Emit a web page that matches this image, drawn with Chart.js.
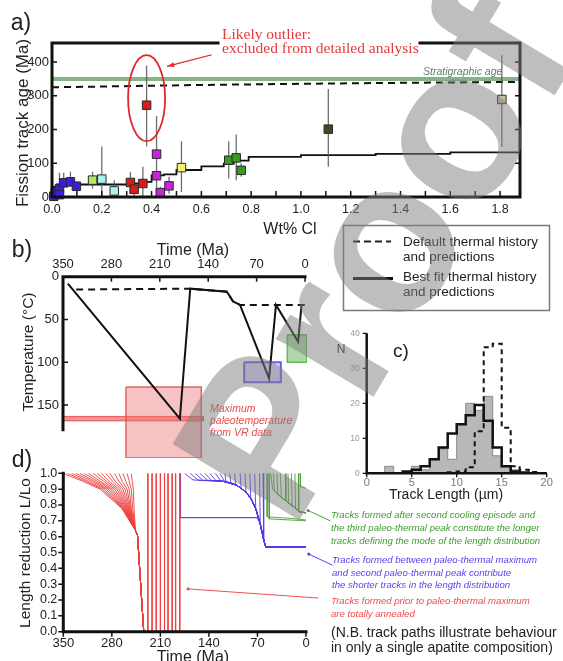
<!DOCTYPE html>
<html>
<head>
<meta charset="utf-8">
<title>Apatite fission track ages, thermal history and track lengths</title>
<script src="https://cdn.jsdelivr.net/npm/chart.js@4.4.1/dist/chart.umd.min.js"></script>
<style>
  html, body { margin: 0; padding: 0; background: #fff; }
  #page { position: relative; width: 563px; height: 661px; overflow: hidden;
          font-family: "Liberation Sans", Arial, sans-serif; color: #222; }
  #page canvas { position: absolute; }
  .lbl { position: absolute; white-space: nowrap; line-height: 1; }
  #watermark { position: absolute; white-space: nowrap; line-height: 1; font-weight: bold;
               font-family: "Liberation Sans", Arial, sans-serif; color: rgba(125,125,125,0.5);
               pointer-events: none; z-index: 10; }
</style>
</head>
<body>
<div id="page">
  <canvas id="panelA" width="563" height="240" style="left:0;top:0"></canvas>
  <canvas id="panelB" width="340" height="242" style="left:0;top:230px"></canvas>
  <canvas id="panelC" width="233" height="185" style="left:330px;top:320px"></canvas>
  <canvas id="panelD" width="563" height="206" style="left:0;top:455px"></canvas>
</div>
<script>
// ---------------- a) fission track age against chlorine content ----------------
const sampleCl      = [0.007, 0.013, 0.030, 0.030, 0.047, 0.074, 0.098, 0.163, 0.200, 0.250, 0.315, 0.330, 0.365, 0.380, 0.420, 0.420, 0.435, 0.470, 0.520, 0.710, 0.740, 0.760, 1.110, 1.807];
const sampleAge     = [2, 15, 25, 7, 42, 45, 32, 50, 53, 18, 43, 23, 40, 272, 127, 63, 13, 33, 87, 109, 116, 79, 201, 289];
const sampleAgeLow  = [0, 5, 10, 0, 25, 30, 20, 25, 0, 0, 10, 0, 0, 150, 65, 0, 0, 10, 15, 55, 50, 60, 90, 148];
const sampleAgeHigh = [10, 30, 72, 20, 72, 75, 45, 75, 150, 50, 75, 55, 90, 390, 240, 100, 30, 60, 165, 165, 185, 100, 320, 420];
const sampleGroup   = [0, 0, 0, 0, 0, 0, 0, 1, 2, 2, 3, 3, 3, 3, 4, 4, 4, 4, 5, 6, 6, 6, 7, 8];
const outlierIndex  = 13;

const bestFitCl  = [0, 0.02, 0.31, 0.37, 0.40, 0.45, 0.50, 0.60, 0.69, 0.73, 0.79, 1.00, 1.30, 1.60, 1.88];
const bestFitAge = [30, 37, 40, 45, 64, 67, 80, 91, 99, 108, 119, 124, 128, 132, 132];
const defaultCl  = [0, 0.60, 1.20, 1.88];
const defaultAge = [325, 332, 337, 341];
const stratigraphicAge = 350;

const clTicks  = [0, 0.2, 0.4, 0.6, 0.8, 1.0, 1.2, 1.4, 1.6, 1.8];
const ageTicks = [0, 100, 200, 300, 400];

// ---------------- b) thermal histories ----------------
const bestPathTime    = [343, 181, 166, 113, 104, 94, 52, 42, 10, 5];
const bestPathTemp    = [8, 166, 14, 17.5, 29, 33, 119, 33, 76, 33];
const defaultPathTime = [331, 166, 113, 104, 94, 0];
const defaultPathTemp = [15, 14, 17.5, 29, 33, 33];
const vrMaxTemp  = 166;
const vrTimeSpan = [350, 147];
const redBoxTime   = [259, 150], redBoxTemp   = [129, 212];
const blueBoxTime  = [88, 35],   blueBoxTemp  = [100, 123.5];
const greenBoxTime = [25.6, -2.4], greenBoxTemp = [68, 100];
const timeTicks = [350, 280, 210, 140, 70, 0];
const tempTicks = [0, 50, 100, 150];

// ---------------- c) track length distributions (1 µm bins) ----------------
const lengthBinEdges = [0, 1, 2, 3, 4, 5, 6, 7, 8, 9, 10, 11, 12, 13, 14, 15, 16, 17, 18, 19, 20];
const observedCount  = [0, 0, 2, 0, 0, 2, 1, 4, 7, 4, 14, 20, 18, 22, 5, 2, 1, 0, 0, 0];
const bestFitCount   = [0, 0, 0, 0, 0.5, 1, 2, 4, 7.4, 11.4, 14, 16.6, 19.5, 15, 7.4, 2, 0.5, 0.2, 0, 0];
const defaultCount   = [0, 0, 0, 0, 0, 0, 0, 0, 0, 0.3, 0.5, 1.7, 12, 36, 37, 13, 2, 1, 0.4, 0];
const lengthTicks = [0, 5, 10, 15, 20];
const countTicks  = [0, 10, 20, 30, 40];

// ---------------- d) length reduction of individual tracks ----------------
const redFanStart  = [350, 344, 338, 332, 326, 320, 314, 307, 301, 295, 289, 283, 276, 270, 264, 258, 252];
const redFanAt095  = [322, 318, 314, 309, 305, 301, 297, 292, 288, 284, 279, 275, 270, 265, 260, 255, 250.5];
const redFanAt090  = [297, 294, 291, 288, 285, 282, 279, 276, 273, 270, 267, 264, 261, 258, 255, 252, 249];
const redFanAt078  = [266, 265, 264, 263, 262, 261, 260, 259, 258, 257, 256, 255, 254, 253, 252, 250, 248];
const redMergeTime  = [246, 243, 234];
const redMergeRatio = [0.64, 0.61, 0];
const redVerticalStart = [228, 222, 216, 210, 204, 199, 193, 188, 182];

const blueFirstTime  = [181, 181, 70, 66, 61, 58, 0];
const blueFirstRatio = [1.0, 0.72, 0.72, 0.68, 0.58, 0.535, 0.535];
const blueStart      = [175, 167, 160, 153, 146, 139, 131, 124, 117, 110, 103, 95, 88, 81, 74, 67, 62];
const blueJoinTime   = [163, 156, 149, 142, 136, 130, 123, 118, 115.5, 108.5, 101.5, 93.5, 86.5, 79.5, 72.5, 66, 61];
const blueJoinRatio  = [0.958, 0.958, 0.957, 0.956, 0.955, 0.955, 0.953, 0.952, 0.95, 0.943, 0.928, 0.905, 0.88, 0.84, 0.775, 0.68, 0.58];
const blueEnvTime    = [150, 120, 100, 86, 78, 72, 66, 61, 58, 0];
const blueEnvRatio   = [0.955, 0.95, 0.925, 0.88, 0.83, 0.77, 0.68, 0.58, 0.535, 0.535];

const greenFlatTime  = [[56, 56, 20, 0], [53, 53, 0]];
const greenFlatRatio = [[1.0, 0.725, 0.715, 0.705], [1.0, 0.712, 0.70]];
const greenStart     = [51, 47, 42, 37, 30, 26, 21, 16, 11];
const greenJoinTime  = [48, 45.5, 40.5, 35.5, 29, 25, 20, 15, 10.5];
const greenJoinRatio = [0.9, 0.885, 0.865, 0.845, 0.825, 0.81, 0.79, 0.775, 0.76];
const greenEnvTime   = [47, 33, 18, 9, 0];
const greenEnvRatio  = [0.895, 0.84, 0.79, 0.757, 0.75];
const greenLastTime  = [8, 8, 0];
const greenLastRatio = [1.0, 0.915, 0.905];
const ratioTicks = [0, 0.1, 0.2, 0.3, 0.4, 0.5, 0.6, 0.7, 0.8, 0.9, 1.0];

// ======================================================================
const FONT = '"Liberation Sans", Arial, sans-serif';
Chart.defaults.font.family = FONT;
Chart.defaults.color = '#222';

const groupColors = ['#3b1ee0', '#b6e65a', '#aef0ee', '#d41e1e', '#cc22dd', '#f2f26a', '#3a9a22', '#3d4d1e', '#c9bfa5'];
const RED = 'rgba(238,62,62,0.9)', BLUE = 'rgba(84,58,236,0.9)', GREEN = 'rgba(72,162,52,0.9)';

const pts = (xs, ys) => xs.map((x, i) => ({ x, y: ys[i] }));

function baseOptions(scales, padding) {
  return {
    responsive: false, animation: false, events: [],
    layout: { padding },
    plugins: { legend: { display: false }, tooltip: { enabled: false } },
    elements: { point: { radius: 0 }, line: { tension: 0 } },
    scales
  };
}

function linAxis(o) {
  return {
    type: 'linear', min: o.min, max: o.max, reverse: !!o.reverse, position: o.position,
    grid: { display: false, drawTicks: false }, border: { display: false },
    ticks: { font: { size: o.size, family: FONT }, color: o.color || '#222', padding: o.pad,
             maxRotation: 0, autoSkip: false, callback: o.fmt || (v => String(v)) },
    afterBuildTicks: s => { s.ticks = o.ticks.map(v => ({ value: v })); },
    afterFit: s => { if (o.width != null) s.width = o.width; if (o.height != null) s.height = o.height; }
  };
}

function lineSet(data, color, width, extra) {
  return Object.assign({ data, borderColor: color, borderWidth: width, pointRadius: 0, fill: false }, extra || {});
}

function boxSet(times, temps, fillColor, strokeColor, width) {
  const d = [
    { x: times[0], y: temps[0] }, { x: times[1], y: temps[0] },
    { x: times[1], y: temps[1] }, { x: times[0], y: temps[1] }, { x: times[0], y: temps[0] }
  ];
  return { data: d, borderColor: strokeColor, borderWidth: width, backgroundColor: fillColor,
           fill: 'shape', pointRadius: 0 };
}

// ---------------- panel a ----------------
const errorSegments = [];
sampleCl.forEach((x, i) => {
  errorSegments.push({ x, y: sampleAgeLow[i] }, { x, y: sampleAgeHigh[i] }, { x, y: null });
});

const frameA = {
  id: 'frameA',
  afterDraw(chart) {
    const { ctx, chartArea: a, scales: { x, y } } = chart;
    ctx.save();
    ctx.strokeStyle = '#111';
    ctx.lineWidth = 1.5;
    ctx.beginPath();
    for (let v = 0.1; v < 1.85; v += 0.1) {
      const px = x.getPixelForValue(v);
      ctx.moveTo(px, a.bottom); ctx.lineTo(px, a.bottom - 6);
    }
    ageTicks.slice(1).forEach(v => {
      const py = y.getPixelForValue(v);
      ctx.moveTo(a.left, py); ctx.lineTo(a.left + 5, py);
      ctx.moveTo(a.right, py); ctx.lineTo(a.right - 5, py);
    });
    ctx.stroke();
    ctx.lineWidth = 3;
    ctx.lineCap = 'square';
    ctx.beginPath();
    ctx.moveTo(a.left, a.top); ctx.lineTo(218, a.top);
    ctx.moveTo(420, a.top); ctx.lineTo(a.right, a.top);
    ctx.lineTo(a.right, a.bottom); ctx.lineTo(a.left, a.bottom); ctx.lineTo(a.left, a.top);
    ctx.stroke();
    // ring around the excluded sample and the arrow from its note
    const ox = x.getPixelForValue(sampleCl[outlierIndex]);
    const oy = y.getPixelForValue(sampleAge[outlierIndex]) - 7;
    ctx.strokeStyle = '#e0282c';
    ctx.lineWidth = 1.8;
    ctx.beginPath();
    ctx.ellipse(ox, oy, 18.5, 43, 0, 0, Math.PI * 2);
    ctx.stroke();
    const sx = 211, sy = 55, ex = ox + 21, ey = oy - 32;
    ctx.lineWidth = 1.2;
    ctx.beginPath(); ctx.moveTo(sx, sy); ctx.lineTo(ex, ey); ctx.stroke();
    const ang = Math.atan2(ey - sy, ex - sx);
    ctx.fillStyle = '#e0282c';
    ctx.beginPath();
    ctx.moveTo(ex, ey);
    ctx.lineTo(ex - 7 * Math.cos(ang - 0.35), ey - 7 * Math.sin(ang - 0.35));
    ctx.lineTo(ex - 7 * Math.cos(ang + 0.35), ey - 7 * Math.sin(ang + 0.35));
    ctx.closePath(); ctx.fill();
    ctx.restore();
  }
};

new Chart(document.getElementById('panelA'), {
  type: 'line',
  data: { datasets: [
    { data: pts(sampleCl, sampleAge), showLine: false, order: 0, clip: false,
      pointStyle: 'rect', pointRadius: 6,
      pointBackgroundColor: sampleGroup.map(g => groupColors[g]),
      pointBorderColor: '#2a2a2a', pointBorderWidth: 1 },
    lineSet(errorSegments, 'rgba(85,85,85,0.85)', 1.3, { order: 1, spanGaps: false }),
    lineSet(pts(bestFitCl, bestFitAge), '#111', 1.8, { order: 2, stepped: true }),
    lineSet(pts(defaultCl, defaultAge), '#111', 2, { order: 3, borderDash: [7, 5] }),
    lineSet(pts([0, 1.88], [stratigraphicAge, stratigraphicAge]), 'rgba(112,168,112,0.85)', 4, { order: 4 })
  ] },
  options: baseOptions({
    x: linAxis({ min: 0, max: 1.88, ticks: clTicks, size: 12.5, pad: 5.5, height: 43, fmt: v => v.toFixed(1) }),
    y: linAxis({ min: 0, max: 456.3, ticks: ageTicks, size: 13, pad: 3, width: 52 })
  }, { top: 43, right: 43, left: 0, bottom: 0 }),
  plugins: [frameA]
});

// ---------------- panel b ----------------
const frameB = {
  id: 'frameB',
  afterDraw(chart) {
    const { ctx, scales: { x, y } } = chart;
    const x0 = x.getPixelForValue(350), x1 = x.getPixelForValue(0);
    const y0 = y.getPixelForValue(0), y1 = y.getPixelForValue(179);
    ctx.save();
    ctx.strokeStyle = '#111';
    ctx.lineWidth = 1.5;
    ctx.beginPath();
    timeTicks.slice(1).forEach(v => { const px = x.getPixelForValue(v); ctx.moveTo(px, y0); ctx.lineTo(px, y0 + 5); });
    tempTicks.slice(1).forEach(v => { const py = y.getPixelForValue(v); ctx.moveTo(x0, py); ctx.lineTo(x0 + 5, py); });
    ctx.stroke();
    ctx.lineWidth = 3;
    ctx.lineCap = 'square';
    ctx.beginPath();
    ctx.moveTo(x1, y0); ctx.lineTo(x0, y0); ctx.lineTo(x0, y1);
    ctx.stroke();
    ctx.restore();
  }
};

new Chart(document.getElementById('panelB'), {
  type: 'line',
  data: { datasets: [
    lineSet(pts(bestPathTime, bestPathTemp), '#111', 2, { order: 0 }),
    lineSet(pts(defaultPathTime, defaultPathTemp), '#111', 2, { order: 1, borderDash: [7, 5] }),
    Object.assign(boxSet(redBoxTime, redBoxTemp, 'rgba(236,110,110,0.42)', 'rgba(222,80,80,0.85)', 1.5), { order: 2 }),
    Object.assign(boxSet(vrTimeSpan, [vrMaxTemp - 2.6, vrMaxTemp + 2.6], 'rgba(240,120,120,0.8)', 'rgba(226,80,80,0.9)', 1), { order: 3 }),
    Object.assign(boxSet(blueBoxTime, blueBoxTemp, 'rgba(190,186,250,0.55)', '#6a5cf0', 2), { order: 4 }),
    Object.assign(boxSet(greenBoxTime, greenBoxTemp, 'rgba(140,200,130,0.7)', '#62b85a', 1.5), { order: 5 })
  ] },
  options: baseOptions({
    x: linAxis({ min: -3, max: 350, reverse: true, position: 'top', ticks: timeTicks, size: 13, pad: 4, height: 46.7 }),
    y: linAxis({ min: 0, max: 212, reverse: true, ticks: tempTicks, size: 13, pad: 4, width: 63 })
  }, { top: 0, right: 32.9, left: 0, bottom: 14 }),
  plugins: [frameB]
});

// ---------------- panel c ----------------
const stepPoints = counts => lengthBinEdges.map((e, i) => ({ x: e, y: counts[Math.min(i, counts.length - 1)] }));

const frameC = {
  id: 'frameC',
  afterDraw(chart) {
    const { ctx, scales: { x, y } } = chart;
    const x0 = x.getPixelForValue(0), x1 = x.getPixelForValue(20);
    const y0 = y.getPixelForValue(0), y1 = y.getPixelForValue(40);
    ctx.save();
    ctx.strokeStyle = '#111';
    ctx.lineWidth = 1.3;
    ctx.beginPath();
    lengthTicks.forEach(v => { const px = x.getPixelForValue(v); ctx.moveTo(px, y0); ctx.lineTo(px, y0 + 4); });
    countTicks.forEach(v => { const py = y.getPixelForValue(v); ctx.moveTo(x0, py); ctx.lineTo(x0 - 4, py); });
    ctx.stroke();
    ctx.lineWidth = 2.5;
    ctx.beginPath();
    ctx.moveTo(x0, y1); ctx.lineTo(x0, y0); ctx.lineTo(x1, y0);
    ctx.stroke();
    ctx.restore();
  }
};

new Chart(document.getElementById('panelC'), {
  type: 'line',
  data: { datasets: [
    lineSet(stepPoints(bestFitCount), '#111', 2.5, { order: 0, stepped: true }),
    lineSet(stepPoints(defaultCount), '#111', 2, { order: 1, stepped: true, borderDash: [5, 4] }),
    lineSet(stepPoints(observedCount), '#8a8a8a', 1, { order: 2, stepped: true, fill: 'origin', backgroundColor: '#b8b8b8' })
  ] },
  options: baseOptions({
    x: linAxis({ min: 0, max: 20, ticks: lengthTicks, size: 11, color: '#7a7a7a', pad: 3, height: 31.7 }),
    y: linAxis({ min: 0, max: 40, ticks: countTicks, size: 8.5, color: '#9a9a9a', pad: 7, width: 36.7 })
  }, { top: 13.3, right: 16.3, left: 0, bottom: 0 }),
  plugins: [frameC]
});

// ---------------- panel d ----------------
const trackSets = [];
redFanStart.forEach((t0, i) => {
  trackSets.push(lineSet([{ x: t0, y: 1 }, { x: redFanAt095[i], y: 0.95 }, { x: redFanAt090[i], y: 0.9 },
                          { x: redFanAt078[i], y: 0.78 }, ...pts(redMergeTime, redMergeRatio)], RED, 1));
});
redVerticalStart.forEach(t0 => trackSets.push(lineSet([{ x: t0, y: 1 }, { x: t0, y: 0 }], RED, 1)));
trackSets.push(lineSet(pts(blueFirstTime, blueFirstRatio), BLUE, 1.2));
const blueEnvelope = pts(blueEnvTime, blueEnvRatio);
blueStart.forEach((t0, i) => {
  trackSets.push(lineSet([{ x: t0, y: 1 }, { x: blueJoinTime[i], y: blueJoinRatio[i] },
                          ...blueEnvelope.filter(p => p.x < blueJoinTime[i])], BLUE, 1));
});
greenFlatTime.forEach((ts, i) => trackSets.push(lineSet(pts(ts, greenFlatRatio[i]), GREEN, 1)));
const greenEnvelope = pts(greenEnvTime, greenEnvRatio);
greenStart.forEach((t0, i) => {
  trackSets.push(lineSet([{ x: t0, y: 1 }, { x: greenJoinTime[i], y: greenJoinRatio[i] },
                          ...greenEnvelope.filter(p => p.x < greenJoinTime[i])], GREEN, 1));
});
trackSets.push(lineSet(pts(greenLastTime, greenLastRatio), GREEN, 1));

// note leaders: start on the data, end beside the notes
const noteLeaders = [
  { time: -3, ratio: 0.765, endX: 330, endY: 520.7, color: '#4aa040' },
  { time: -4, ratio: 0.49, endX: 332, endY: 565, color: '#5a40ee' },
  { time: 170, ratio: 0.27, endX: 318, endY: 598, color: '#f05050' }
];

const frameD = {
  id: 'frameD',
  afterDraw(chart) {
    const { ctx, scales: { x, y } } = chart;
    const x0 = x.getPixelForValue(350), x1 = x.getPixelForValue(0);
    const y0 = y.getPixelForValue(0), y1 = y.getPixelForValue(1);
    ctx.save();
    ctx.strokeStyle = '#111';
    ctx.lineWidth = 1.5;
    ctx.beginPath();
    timeTicks.forEach(v => { const px = x.getPixelForValue(v); ctx.moveTo(px, y0); ctx.lineTo(px, y0 + 5); });
    ratioTicks.forEach(v => { const py = y.getPixelForValue(v); ctx.moveTo(x0, py); ctx.lineTo(x0 - 5, py); });
    ctx.stroke();
    ctx.lineWidth = 3;
    ctx.lineCap = 'square';
    ctx.beginPath();
    ctx.moveTo(x0, y1); ctx.lineTo(x0, y0); ctx.lineTo(x1, y0);
    ctx.stroke();
    const top = chart.canvas.offsetTop;
    noteLeaders.forEach(n => {
      const sx = x.getPixelForValue(n.time), sy = y.getPixelForValue(n.ratio);
      ctx.strokeStyle = n.color; ctx.fillStyle = n.color; ctx.lineWidth = 1;
      ctx.beginPath(); ctx.moveTo(sx, sy); ctx.lineTo(n.endX, n.endY - top); ctx.stroke();
      ctx.beginPath(); ctx.arc(sx, sy, 1.6, 0, Math.PI * 2); ctx.fill();
    });
    ctx.restore();
  }
};

new Chart(document.getElementById('panelD'), {
  type: 'line',
  data: { datasets: trackSets },
  options: baseOptions({
    x: linAxis({ min: 0, max: 350, reverse: true, ticks: timeTicks, size: 13, pad: 3.5, height: 29.3 }),
    y: linAxis({ min: 0, max: 1, ticks: ratioTicks, size: 12.5, pad: 6, width: 63.3, fmt: v => v.toFixed(1) })
  }, { top: 18.3, right: 257, left: 0, bottom: 0 }),
  plugins: [frameD]
});

// ---------------- titles, notes and legend ----------------
const page = document.getElementById('page');
function label(text, x, y, o = {}) {
  const d = document.createElement('div');
  d.className = 'lbl';
  d.textContent = text;
  d.style.left = x + 'px';
  d.style.top = y + 'px';
  d.style.fontSize = (o.size || 13) + 'px';
  if (o.family) d.style.fontFamily = o.family;
  if (o.color) d.style.color = o.color;
  if (o.italic) d.style.fontStyle = 'italic';
  if (o.bold) d.style.fontWeight = 'bold';
  const ax = o.align === 'left' ? '0' : '-50%';
  d.style.transform = 'translate(' + ax + ', -50%)' + (o.rotate ? ' rotate(' + o.rotate + 'deg)' : '');
  page.appendChild(d);
}
const SERIF = '"Liberation Serif", "Times New Roman", serif';

label('a)', 21, 22, { size: 23 });
label('Fission track age (Ma)', 22, 123, { size: 17, rotate: -90 });
label('Wt% Cl', 290, 229, { size: 16 });
label('Likely outlier:', 222, 34, { size: 15.5, family: SERIF, color: '#e8383d', align: 'left' });
label('excluded from detailed analysis', 222, 48, { size: 15.5, family: SERIF, color: '#e8383d', align: 'left' });
label('Stratigraphic age', 423, 71, { size: 10.5, italic: true, color: '#5d7d62', align: 'left' });

label('b)', 22, 249, { size: 23 });
label('Time (Ma)', 193, 250, { size: 16 });
label('Temperature (°C)', 28, 352, { size: 15.5, rotate: -90 });
label('Maximum', 210, 408, { size: 10.5, italic: true, color: '#e94a4a', align: 'left' });
label('paleotemperature', 210, 420, { size: 10.5, italic: true, color: '#e94a4a', align: 'left' });
label('from VR data', 210, 432, { size: 10.5, italic: true, color: '#e94a4a', align: 'left' });

// legend box
const legend = document.createElementNS('http://www.w3.org/2000/svg', 'svg');
legend.setAttribute('width', '563'); legend.setAttribute('height', '661');
legend.style.position = 'absolute'; legend.style.left = '0'; legend.style.top = '0';
legend.innerHTML =
  '<rect x="343.5" y="225.5" width="206" height="85" fill="none" stroke="#7a7a7a" stroke-width="1.5"/>' +
  '<line x1="353" y1="241.5" x2="391" y2="241.5" stroke="#222" stroke-width="2" stroke-dasharray="7,4"/>' +
  '<line x1="353" y1="278.5" x2="393" y2="278.5" stroke="#111" stroke-width="3"/>';
page.appendChild(legend);
label('Default thermal history', 403, 241.5, { size: 13.5, align: 'left' });
label('and predictions', 403, 256.5, { size: 13.5, align: 'left' });
label('Best fit thermal history', 403, 277, { size: 13.5, align: 'left' });
label('and predictions', 403, 292, { size: 13.5, align: 'left' });

label('N', 341, 349, { size: 12 });
label('c)', 401, 350, { size: 19 });
label('Track Length (µm)', 446, 494, { size: 14 });

label('d)', 22, 459, { size: 23 });
label('Length reduction L/Lo', 25, 553, { size: 15.5, rotate: -90 });
label('Time (Ma)', 193, 657, { size: 16 });

const noteGreen = ['Tracks formed after second cooling episode and',
                   'the third paleo-thermal peak constitute the longer',
                   'tracks defining the mode of the length distribution'];
const noteBlue  = ['Tracks formed between paleo-thermal maximum',
                   'and second paleo-thermal peak contribute',
                   'the shorter tracks in the length distribution'];
const noteRed   = ['Tracks formed prior to paleo-thermal maximum', 'are totally annealed'];
noteGreen.forEach((t, i) => label(t, 331, 515 + i * 13, { size: 9.6, italic: true, color: '#3f9a2e', align: 'left' }));
noteBlue.forEach((t, i) => label(t, 332, 560 + i * 12.5, { size: 9.6, italic: true, color: '#5a3cf0', align: 'left' }));
noteRed.forEach((t, i) => label(t, 331, 601 + i * 12.5, { size: 9.6, italic: true, color: '#f04848', align: 'left' }));
label('(N.B. track paths illustrate behaviour', 331, 632, { size: 14, align: 'left' });
label('in only a single apatite composition)', 331, 647, { size: 14, align: 'left' });

// diagonal proof stamp, centred on the sheet's upper right diagonal
const wm = document.createElement('div');
wm.id = 'watermark';
wm.textContent = 'Proof';
wm.style.fontSize = '215px';
page.appendChild(wm);
const wmW = wm.offsetWidth, wmH = wm.offsetHeight;
wm.style.left = (372 - wmW / 2) + 'px';
wm.style.top = (253 - wmH / 2) + 'px';
wm.style.transform = 'rotate(-59deg)';
</script>
</body>
</html>
